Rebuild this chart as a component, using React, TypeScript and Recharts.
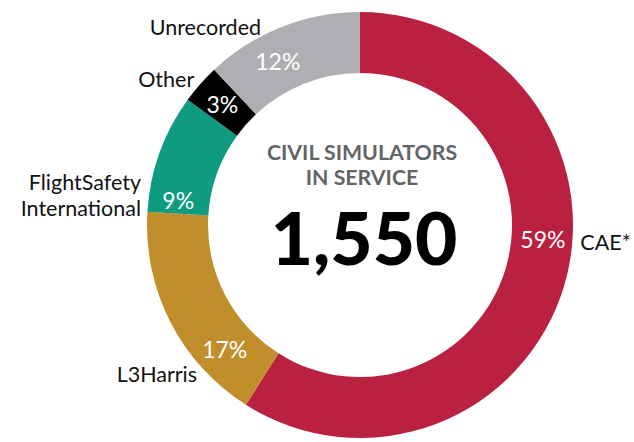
import { Cell, Pie, PieChart } from "recharts";

const companies = ["CAE*", "L3Harris", "FlightSafety\nInternational", "Other", "Unrecorded"];
const shares = [59, 17, 9, 3, 12];
const colors = ["#BA2140", "#C18E2C", "#0E9B80", "#000000", "#AEAFB2"];
// nudges (degrees) so the labels sit where the original puts them
const labelShift = [11.7, 15.5, 12, 0, 5];

const totalInService = "1,550";
const centerTitle = ["CIVIL SIMULATORS", "IN SERVICE"];

const data = companies.map((name, i) => ({ name, value: shares[i] }));

const RAD = Math.PI / 180;
const FONT = "Lato, 'Noto Sans', sans-serif";

function renderLabel(props: any) {
  const { cx, cy, midAngle, innerRadius, outerRadius, index } = props;
  const angle = midAngle + labelShift[index];
  const cos = Math.cos(-angle * RAD);
  const sin = Math.sin(-angle * RAD);
  const rIn = (innerRadius + outerRadius) / 2 + 1;
  const rOut = outerRadius + 8;
  const px = cx + rIn * cos;
  const py = cy + rIn * sin;
  const ox = cx + rOut * cos;
  const oy = cy + rOut * sin;
  const lines = companies[index].split("\n");
  const lh = 26;
  return (
    <g>
      <text
        x={px}
        y={py}
        fill="#fff"
        fontSize={23}
        fontFamily={FONT}
        textAnchor="middle"
        dominantBaseline="central"
      >
        {shares[index]}%
      </text>
      <text
        x={ox}
        y={oy - ((lines.length - 1) * lh) / 2}
        fill="#111"
        fontSize={21.5}
        fontFamily={FONT}
        textAnchor={cos >= 0 ? "start" : "end"}
        dominantBaseline="central"
      >
        {lines.map((l, i) => (
          <tspan key={i} x={ox} dy={i === 0 ? 0 : lh}>
            {l}
          </tspan>
        ))}
      </text>
    </g>
  );
}

export default function App() {
  return (
    <div style={{ position: "absolute", left: 0, top: 0, width: 634, height: 442, background: "#fff" }}>
      <PieChart width={634} height={442} margin={{ top: 0, right: 0, bottom: 0, left: 0 }}>
        <Pie
          data={data}
          dataKey="value"
          nameKey="name"
          cx={360}
          cy={225}
          innerRadius={152}
          outerRadius={213}
          startAngle={90}
          endAngle={-270}
          stroke="none"
          label={renderLabel}
          labelLine={false}
          isAnimationActive={false}
        >
          {data.map((d, i) => (
            <Cell key={d.name} fill={colors[i]} />
          ))}
        </Pie>
        <text
          x={362}
          y={152}
          textAnchor="middle"
          dominantBaseline="central"
          fontFamily={FONT}
          fontWeight={700}
          fontSize={21.3}
          fill="#636466"
        >
          {centerTitle[0]}
        </text>
        <text
          x={362}
          y={177}
          textAnchor="middle"
          dominantBaseline="central"
          fontFamily={FONT}
          fontWeight={700}
          fontSize={21.3}
          fill="#636466"
        >
          {centerTitle[1]}
        </text>
        <text
          x={364}
          y={237}
          textAnchor="middle"
          dominantBaseline="central"
          fontFamily={FONT}
          fontWeight={900}
          fontSize={73}
          fill="#000"
        >
          {totalInService}
        </text>
      </PieChart>
    </div>
  );
}
